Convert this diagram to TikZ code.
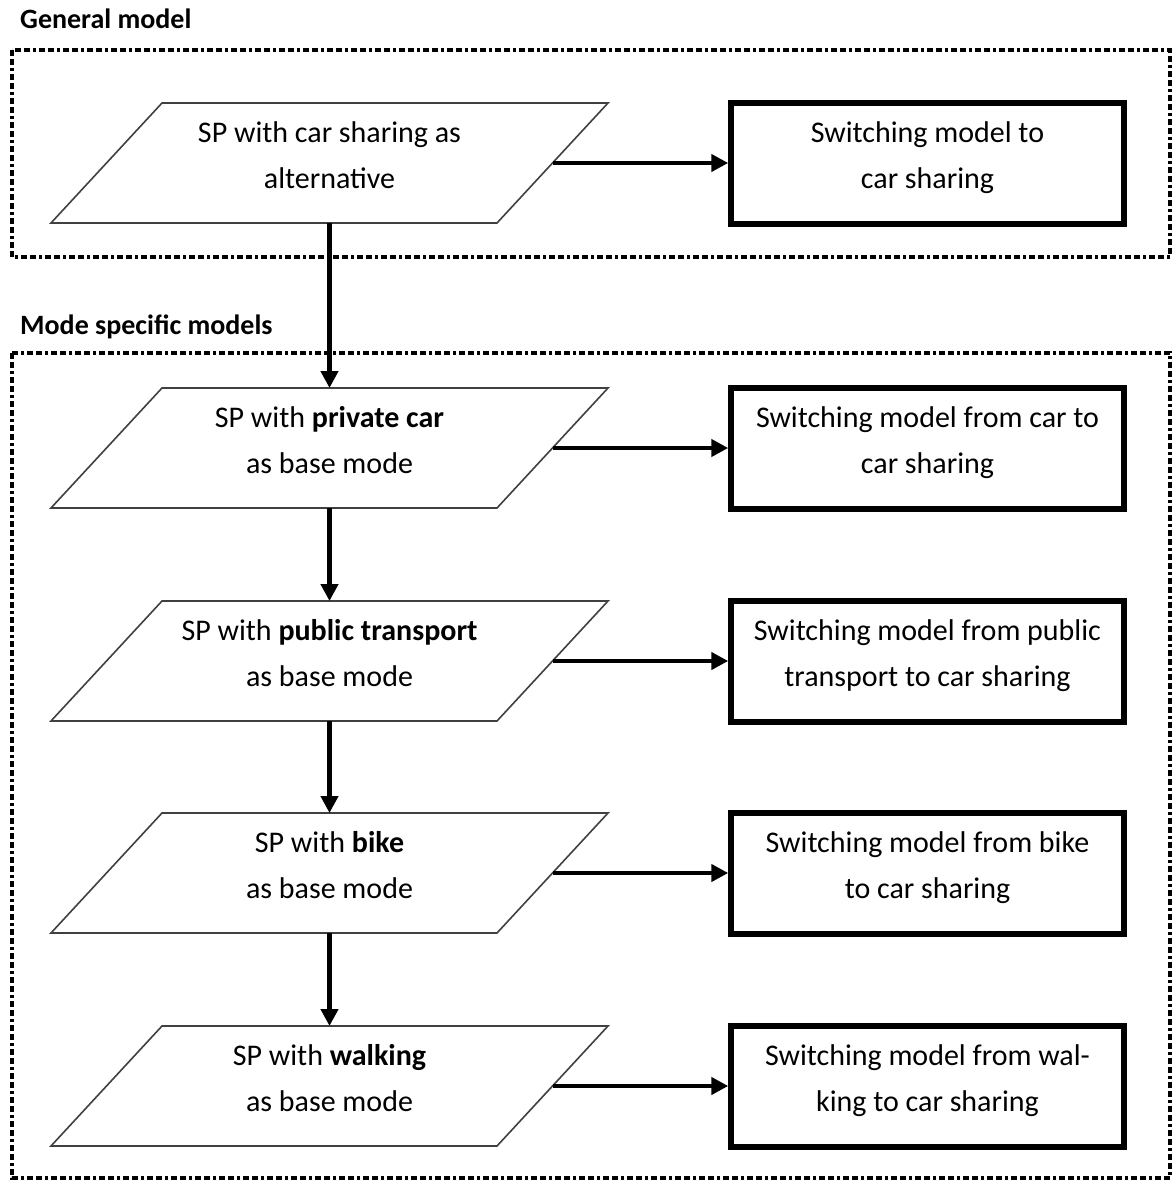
\documentclass[tikz,border=0pt]{standalone}
\usepackage{fontspec}
\setmainfont{Carlito}
\usetikzlibrary{arrows.meta,calc}
\newcommand\rowstrut{\rule[-16pt]{0pt}{42pt}}
\begin{document}
\begin{tikzpicture}[x=1pt,y=-1pt,
  every node/.style={inner sep=0pt},
  boxtext/.style={font=\fontsize{30}{46}\selectfont, align=center,
    execute at begin node=\rowstrut, execute at end node=\rowstrut},
  parabox/.style={boxtext, minimum width=446pt, minimum height=120pt, outer sep=0pt},
  modelbox/.style={boxtext, draw, line width=5.5pt, minimum width=393pt, minimum height=121pt},
  flow/.style={line width=4.5pt, -{Triangle[length=17pt,width=17pt]}},
  group/.style={line width=3.5pt, dash pattern=on 6pt off 3pt on 6pt off 3pt on 3pt off 3pt},
  grouplabel/.style={font=\fontsize{28}{34}\selectfont\bfseries, anchor=base west},
  paraline/.style={draw=black!75, line width=1.6pt}
]
\useasboundingbox (0,0) rectangle (1173,1180);

% group frames
\draw[group] (12,50) rectangle (1170,257);
\draw[group] (12,353) rectangle (1170,1178);
\node[grouplabel] (lg) at (20,29) {General model};
\node[grouplabel] (lm) at (20,334) {Mode specific models};

% input parallelograms
\node[parabox] (p1) at (329.5,163) {SP with car sharing as\\alternative};
\node[parabox] (p2) at (329.5,448) {SP with \textbf{private car}\\as base mode};
\node[parabox] (p3) at (329.5,661) {SP with \textbf{public transport}\\as base mode};
\node[parabox] (p4) at (329.5,873) {SP with \textbf{bike}\\as base mode};
\node[parabox] (p5) at (329.5,1086) {SP with \textbf{walking}\\as base mode};

\foreach \p in {p1,p2,p3,p4,p5}{
  \draw[paraline] ($(\p.north west)+(55.5,0)$) -- ($(\p.north east)+(55.5,0)$)
    -- ($(\p.south east)-(55.5,0)$) -- ($(\p.south west)-(55.5,0)$) -- cycle;
}

% model boxes
\node[modelbox] (r1) at (927.5,163.5) {Switching model to\\car sharing};
\node[modelbox] (r2) at (927.5,448.5) {Switching model from car to\\car sharing};
\node[modelbox] (r3) at (927.5,661.5) {Switching model from public\\transport to car sharing};
\node[modelbox] (r4) at (927.5,873.5) {Switching model from bike\\to car sharing};
\node[modelbox] (r5) at (927.5,1086.5) {Switching model from wal-\\king to car sharing};

% connectors
\foreach \i in {1,...,5}{
  \draw[flow] (p\i.east) -- (p\i.east -| r\i.west);
}
\draw[flow] (p1.south) -- (p2.north);
\draw[flow] (p2.south) -- (p3.north);
\draw[flow] (p3.south) -- (p4.north);
\draw[flow] (p4.south) -- (p5.north);
\end{tikzpicture}
\end{document}
